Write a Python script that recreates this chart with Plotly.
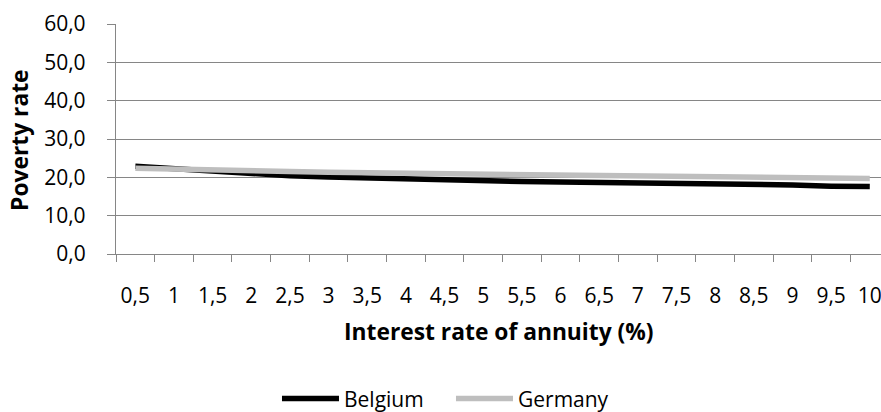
import plotly.graph_objects as go

categories = ["0,5", "1", "1,5", "2", "2,5", "3", "3,5", "4", "4,5", "5",
              "5,5", "6", "6,5", "7", "7,5", "8", "8,5", "9", "9,5", "10"]
belgium = [22.9, 22.2, 21.5, 20.9, 20.4, 20.1, 19.8, 19.6, 19.3, 19.0,
           18.9, 18.8, 18.7, 18.4, 18.3, 18.3, 18.2, 18.0, 17.7, 17.6]
germany = [22.4, 22.1, 21.9, 21.7, 21.5, 21.3, 21.2, 21.0, 20.9, 20.8,
           20.6, 20.5, 20.4, 20.3, 20.2, 20.1, 20.0, 19.9, 19.8, 19.7]
y_ticks = [0, 10, 20, 30, 40, 50, 60]
y_tick_labels = ["0,0", "10,0", "20,0", "30,0", "40,0", "50,0", "60,0"]

FONT = "Open Sans"
FS = 21
FS_TITLE = 22.8
GRID = "#868686"

fig = go.Figure()
fig.add_trace(go.Scatter(x=categories, y=belgium, name="Belgium", mode="lines",
                         line=dict(color="#000000", width=5.5)))
fig.add_trace(go.Scatter(x=categories, y=germany, name="Germany", mode="lines",
                         line=dict(color="#BEBEBE", width=5.5)))

fig.update_layout(
    width=881, height=412,
    margin=dict(l=116, r=0, t=24, b=158, autoexpand=False),
    plot_bgcolor="white", paper_bgcolor="white",
    font=dict(family=FONT, size=FS, color="#000000"),
    showlegend=True,
    legend=dict(orientation="h", x=0.3144, xanchor="left", xref="container",
                y=0.032, yanchor="middle", yref="container",
                font=dict(family=FONT, size=FS), itemwidth=57,
                entrywidth=102, entrywidthmode="pixels", tracegroupgap=0),
    xaxis=dict(type="category", range=[-0.5, 19.29], tickson="boundaries",
               showline=True, linecolor=GRID, linewidth=1.3, showgrid=False,
               ticks="outside", ticklen=7, tickcolor=GRID, tickwidth=1,
               tickangle=0, ticklabelstandoff=23, tickfont=dict(family=FONT, size=FS),
               zeroline=False, automargin=False),
    yaxis=dict(range=[0, 60], tickvals=y_ticks, ticktext=y_tick_labels,
               showline=True, linecolor=GRID, linewidth=1.3,
               showgrid=True, gridcolor=GRID, gridwidth=1,
               ticks="outside", ticklen=8, tickcolor=GRID, tickwidth=1,
               ticklabelstandoff=17, tickfont=dict(family=FONT, size=FS),
               zeroline=False, automargin=False),
    annotations=[
        dict(text="<b>Interest rate of annuity (%)</b>", xref="paper", yref="paper",
             x=0.5007, y=-0.335, xanchor="center", yanchor="middle", showarrow=False,
             font=dict(family=FONT, size=FS_TITLE)),
        dict(text="<b>Poverty rate</b>", xref="paper", yref="paper",
             x=-0.1255, y=0.496, xanchor="center", yanchor="middle", showarrow=False,
             textangle=-90, font=dict(family=FONT, size=FS_TITLE)),
    ],
)

fig.write_html("out.html", config={"displayModeBar": False},
               post_script="document.body.style.margin='0';")
